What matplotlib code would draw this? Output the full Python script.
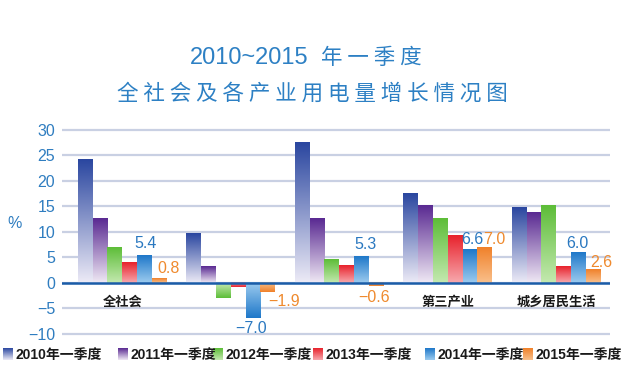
import numpy as np
import matplotlib
matplotlib.use("Agg")
import matplotlib.pyplot as plt
from matplotlib.colors import to_rgb

plt.rcParams['font.family'] = ['Liberation Sans', 'Noto Sans CJK SC']

categories = ["全社会", "", "", "第三产业", "城乡居民生活"]
series_names = ["2010年一季度", "2011年一季度", "2012年一季度",
                "2013年一季度", "2014年一季度", "2015年一季度"]
v2010 = [24.2, 9.7, 27.6, 17.6, 14.8]
v2011 = [12.6, 3.3, 12.6, 15.3, 13.8]
v2012 = [6.9, -2.9, 4.6, 12.6, 15.3]
v2013 = [4.1, -0.8, 3.4, 9.4, 3.3]
v2014 = [5.4, -7.0, 5.3, 6.6, 6.0]
v2015 = [0.8, -1.9, -0.6, 7.0, 2.6]
yticks = [-10, -5, 0, 5, 10, 15, 20, 25, 30]

series = [v2010, v2011, v2012, v2013, v2014, v2015]
# (tip colour, base colour) for each series
grads = [("#2b47a0", "#eceaf6"), ("#5a2a92", "#efe8f4"), ("#5dbd38", "#c4e9b0"),
         ("#e8222c", "#f7a9ae"), ("#1f78c9", "#9ccbef"), ("#f0812a", "#f9c08c")]

# label offsets in pixels (dx, dy) for the 2014 / 2015 value labels
off_2014 = [(1.5, 11.5), (-2, -10.5), (4.5, 11), (2, 9.5), (-1.3, 8.5)]
off_2015 = [(9, 10), (16, -9), (-2.4, -11.5), (10, 7.5), (8.5, 7.5)]

W, H = 631, 382
fig = plt.figure(figsize=(W / 100, H / 100), dpi=100)
fig.patch.set_facecolor("white")
ax = fig.add_axes([62 / W, 0.1131, 548 / W, 0.5599])


def grad_img(top, bottom, n=64):
    a = np.array(to_rgb(top))
    b = np.array(to_rgb(bottom))
    t = np.linspace(0, 1, n)[:, None]
    return (a * (1 - t) + b * t)[:, None, :]


bw = 0.1365
x = np.arange(len(categories))
for j, vals in enumerate(series):
    bars = ax.bar(x + (j - 2.5) * bw, vals, width=bw,
                  color=grads[j][0], linewidth=0, zorder=2)
    for r, v in zip(bars, vals):
        img = grad_img(*grads[j])
        if v < 0:
            img = img[::-1]
        x0, y0 = r.get_x(), r.get_y()
        ax.imshow(img, extent=(x0, x0 + r.get_width(), min(y0, y0 + r.get_height()),
                               max(y0, y0 + r.get_height())),
                  aspect='auto', origin='upper', zorder=3, interpolation='bilinear')

for i, v in enumerate(v2014):
    xc = i + 1.5 * bw
    ax.annotate(f"{v:.1f}".replace("-", "\u2212"), (xc, v), xytext=off_2014[i],
                textcoords='offset pixels', ha='center', va='center',
                fontsize=11.5, color="#2a78c0", zorder=6)
for i, v in enumerate(v2015):
    xc = i + 2.5 * bw
    ax.annotate(f"{v:.1f}".replace("-", "\u2212"), (xc, v), xytext=off_2015[i],
                textcoords='offset pixels', ha='center', va='center',
                fontsize=11.5, color="#ef8a2e", zorder=6)

for i, c in enumerate(categories):
    ax.text(i, -3.7, c, ha='center', va='center', fontsize=9.5,
            fontweight='bold', color="#1a1a1a", family=['Noto Sans CJK SC'])

ax.axhline(0, color="#1a5ca8", lw=1.8, zorder=5)
ax.set_yticks(yticks)
ax.set_yticklabels([str(t).replace("-", "\u2212") for t in yticks])
ax.tick_params(axis='y', length=0, pad=5, labelsize=11.5, labelcolor="#2f7dc0")
ax.tick_params(axis='x', length=0, labelbottom=False)
ax.grid(axis='y', color="#c9d0e3", lw=1.6, zorder=0)
ax.set_axisbelow(True)
for s in ax.spines.values():
    s.set_visible(False)
ax.set_xlim(-0.555, 4.496)
ax.set_ylim(-11, 31)

fig.text(15 / W, 1 - 223 / H, "%", ha='center', va='center', fontsize=11.5, color="#2f7dc0")

# title
tcol = "#2d80c4"
fig.text(190 / W, 1 - 58.5 / H, "2010~2015", ha='left', va='center', fontsize=17, color=tcol)
fig.text(321 / W, 1 - 58.5 / H, "年 一 季 度", ha='left', va='center', fontsize=15.5,
         color=tcol, family=['Noto Sans CJK SC'], fontweight='medium')
fig.text(312 / W, 1 - 93.3 / H, " ".join("全社会及各产业用电量增长情况图"),
         ha='center', va='center', fontsize=15.5, color=tcol,
         family=['Noto Sans CJK SC'], fontweight='medium')

# legend
leg_x = [3.3, 118, 213, 313, 425, 523]
for j, name in enumerate(series_names):
    lax = fig.add_axes([leg_x[j] / W, (H - 360) / H, 10 / W, 12 / H])
    lax.imshow(grad_img(grads[j][0], grads[j][1]), aspect='auto', interpolation='bilinear')
    lax.axis('off')
    fig.text((leg_x[j] + 12.5) / W, 1 - 355 / H, name, ha='left', va='center',
             fontsize=10, color="#1a1a1a", fontweight='bold')

fig.savefig("out.png", dpi=100)
